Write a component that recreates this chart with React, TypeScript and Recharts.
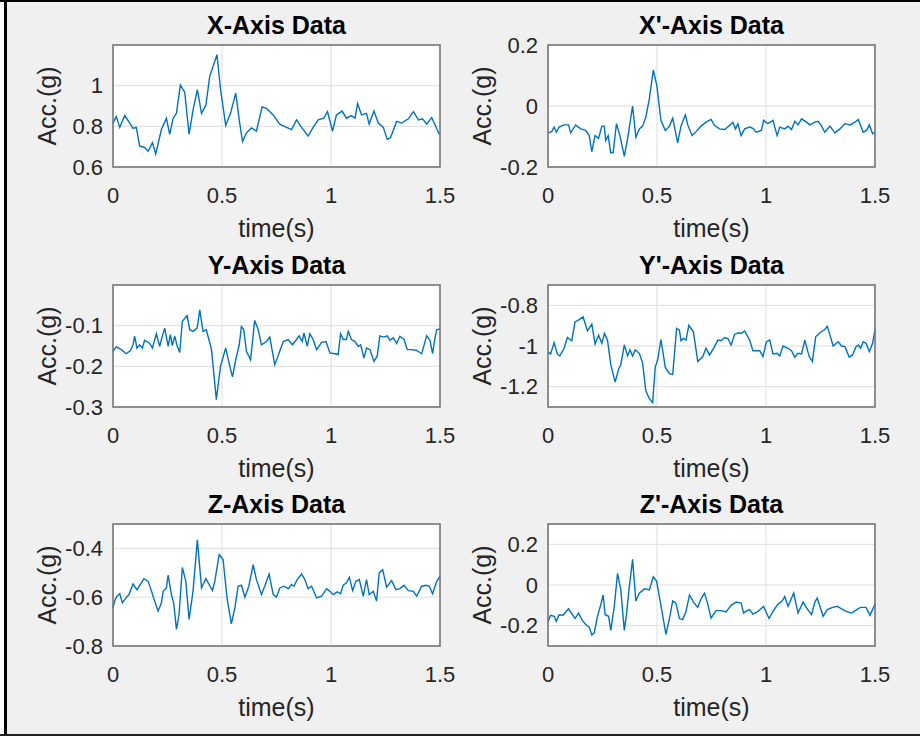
import { LineChart, Line, XAxis, YAxis, CartesianGrid } from 'recharts';

const FONT = '"Liberation Sans", Arial, Helvetica, sans-serif';
const TIME_TICKS = [0, 0.5, 1, 1.5];

// X-Axis Data
const xTime = [0, 0.015, 0.031, 0.054, 0.077, 0.092, 0.107, 0.122, 0.145, 0.161, 0.181, 0.196, 0.222, 0.245, 0.26, 0.276, 0.291, 0.309, 0.329, 0.349, 0.367, 0.387, 0.406, 0.426, 0.444, 0.462, 0.477, 0.493, 0.517, 0.539, 0.563, 0.579, 0.594, 0.612, 0.635, 0.658, 0.684, 0.704, 0.735, 0.765, 0.796, 0.819, 0.842, 0.865, 0.895, 0.918, 0.941, 0.967, 0.984, 1.007, 1.025, 1.051, 1.071, 1.094, 1.11, 1.122, 1.14, 1.163, 1.175, 1.197, 1.217, 1.24, 1.258, 1.273, 1.301, 1.324, 1.355, 1.378, 1.401, 1.42, 1.439, 1.462, 1.477, 1.497];
const xAcc = [0.816, 0.848, 0.795, 0.853, 0.816, 0.79, 0.795, 0.704, 0.696, 0.677, 0.72, 0.664, 0.784, 0.84, 0.76, 0.84, 0.864, 1.003, 0.968, 0.76, 0.88, 0.98, 0.864, 0.904, 1.048, 1.104, 1.152, 0.984, 0.805, 0.864, 0.963, 0.832, 0.725, 0.768, 0.792, 0.776, 0.896, 0.888, 0.856, 0.811, 0.795, 0.784, 0.832, 0.795, 0.752, 0.795, 0.832, 0.84, 0.872, 0.776, 0.856, 0.875, 0.84, 0.853, 0.84, 0.912, 0.856, 0.864, 0.811, 0.875, 0.816, 0.795, 0.736, 0.744, 0.824, 0.816, 0.837, 0.872, 0.832, 0.837, 0.811, 0.843, 0.808, 0.76];

// X'-Axis Data
const xpTime = [0, 0.017, 0.028, 0.038, 0.051, 0.074, 0.094, 0.104, 0.127, 0.15, 0.173, 0.189, 0.201, 0.216, 0.232, 0.247, 0.258, 0.265, 0.276, 0.288, 0.299, 0.314, 0.33, 0.35, 0.365, 0.388, 0.403, 0.419, 0.434, 0.449, 0.465, 0.483, 0.499, 0.518, 0.538, 0.557, 0.572, 0.595, 0.61, 0.63, 0.641, 0.661, 0.679, 0.702, 0.725, 0.748, 0.764, 0.787, 0.81, 0.833, 0.848, 0.86, 0.871, 0.886, 0.902, 0.925, 0.94, 0.955, 0.979, 0.989, 1.009, 1.032, 1.051, 1.063, 1.086, 1.101, 1.117, 1.132, 1.147, 1.163, 1.186, 1.201, 1.224, 1.239, 1.255, 1.27, 1.293, 1.316, 1.339, 1.362, 1.385, 1.408, 1.423, 1.446, 1.462, 1.474, 1.489, 1.5];
const xpAcc = [-0.088, -0.084, -0.069, -0.086, -0.069, -0.062, -0.062, -0.088, -0.062, -0.075, -0.08, -0.097, -0.15, -0.097, -0.106, -0.066, -0.066, -0.113, -0.097, -0.154, -0.152, -0.058, -0.097, -0.165, -0.108, 0, -0.102, -0.075, -0.066, -0.036, 0.024, 0.118, 0.068, -0.047, -0.08, -0.066, -0.04, -0.121, -0.066, -0.029, -0.062, -0.097, -0.084, -0.066, -0.053, -0.044, -0.064, -0.075, -0.077, -0.064, -0.053, -0.075, -0.058, -0.097, -0.075, -0.069, -0.073, -0.086, -0.08, -0.047, -0.058, -0.047, -0.097, -0.069, -0.075, -0.066, -0.077, -0.05, -0.062, -0.042, -0.053, -0.062, -0.053, -0.05, -0.066, -0.086, -0.066, -0.088, -0.075, -0.058, -0.062, -0.053, -0.044, -0.086, -0.08, -0.062, -0.091, -0.086];

// Y-Axis Data
const yTime = [0, 0.015, 0.038, 0.061, 0.08, 0.092, 0.099, 0.11, 0.122, 0.135, 0.145, 0.168, 0.181, 0.199, 0.214, 0.222, 0.237, 0.253, 0.263, 0.272, 0.283, 0.294, 0.306, 0.318, 0.34, 0.352, 0.367, 0.386, 0.398, 0.413, 0.428, 0.452, 0.474, 0.493, 0.517, 0.536, 0.548, 0.563, 0.579, 0.589, 0.6, 0.612, 0.631, 0.65, 0.666, 0.681, 0.704, 0.719, 0.742, 0.765, 0.781, 0.804, 0.823, 0.842, 0.854, 0.868, 0.876, 0.891, 0.903, 0.918, 0.934, 0.957, 0.977, 0.995, 1.018, 1.033, 1.044, 1.056, 1.071, 1.079, 1.094, 1.11, 1.125, 1.136, 1.151, 1.163, 1.179, 1.197, 1.212, 1.224, 1.243, 1.258, 1.27, 1.286, 1.301, 1.316, 1.335, 1.35, 1.37, 1.393, 1.416, 1.439, 1.454, 1.466, 1.477, 1.485, 1.5];
const yAcc = [-0.163, -0.152, -0.159, -0.169, -0.161, -0.147, -0.126, -0.155, -0.147, -0.155, -0.136, -0.143, -0.155, -0.12, -0.151, -0.134, -0.106, -0.151, -0.122, -0.149, -0.126, -0.149, -0.166, -0.089, -0.075, -0.11, -0.114, -0.106, -0.061, -0.114, -0.11, -0.159, -0.282, -0.2, -0.155, -0.2, -0.226, -0.184, -0.147, -0.102, -0.11, -0.163, -0.184, -0.087, -0.11, -0.147, -0.139, -0.128, -0.196, -0.163, -0.139, -0.134, -0.147, -0.134, -0.125, -0.139, -0.118, -0.151, -0.12, -0.134, -0.159, -0.141, -0.139, -0.167, -0.169, -0.171, -0.12, -0.134, -0.134, -0.114, -0.134, -0.139, -0.151, -0.147, -0.18, -0.155, -0.159, -0.188, -0.175, -0.125, -0.128, -0.125, -0.136, -0.13, -0.144, -0.126, -0.134, -0.159, -0.159, -0.161, -0.169, -0.125, -0.136, -0.169, -0.13, -0.11, -0.108];

// Y'-Axis Data
const ypTime = [0, 0.012, 0.028, 0.043, 0.054, 0.074, 0.089, 0.109, 0.124, 0.143, 0.161, 0.181, 0.201, 0.216, 0.232, 0.247, 0.259, 0.273, 0.288, 0.308, 0.324, 0.334, 0.35, 0.365, 0.376, 0.388, 0.4, 0.419, 0.434, 0.449, 0.465, 0.48, 0.492, 0.503, 0.518, 0.538, 0.557, 0.572, 0.59, 0.603, 0.61, 0.621, 0.633, 0.646, 0.667, 0.687, 0.71, 0.725, 0.741, 0.764, 0.779, 0.794, 0.81, 0.825, 0.84, 0.856, 0.876, 0.886, 0.902, 0.925, 0.94, 0.971, 0.986, 1.002, 1.017, 1.032, 1.051, 1.063, 1.078, 1.101, 1.117, 1.132, 1.147, 1.163, 1.178, 1.198, 1.213, 1.228, 1.247, 1.27, 1.281, 1.296, 1.308, 1.331, 1.347, 1.362, 1.382, 1.397, 1.413, 1.423, 1.434, 1.446, 1.459, 1.474, 1.489, 1.5];
const ypAcc = [-1.028, -1.039, -0.984, -1.039, -1.049, -1.011, -0.958, -0.974, -0.882, -0.87, -0.857, -0.926, -0.893, -0.99, -0.947, -0.987, -0.938, -0.971, -1.092, -1.178, -1.113, -1.092, -0.995, -1.049, -1.019, -1.049, -1.019, -1.036, -1.084, -1.222, -1.259, -1.279, -1.104, -1.068, -0.968, -1.104, -1.136, -1.141, -0.914, -0.922, -0.974, -0.963, -0.971, -0.898, -0.93, -1.076, -1.052, -1.011, -1.044, -1.003, -0.971, -0.974, -0.958, -0.963, -0.995, -0.942, -0.935, -0.938, -0.926, -0.971, -1.023, -1.023, -1.052, -0.979, -0.971, -1.039, -1.036, -1.049, -1.0, -1.011, -1.023, -1.055, -1.036, -1.039, -0.971, -1.052, -1.076, -0.955, -0.935, -0.919, -0.903, -0.955, -1.0, -0.979, -1.0, -1.003, -1.055, -1.044, -1.003, -0.995, -1.011, -0.979, -0.987, -1.028, -0.987, -0.919];

// Z-Axis Data
const zTime = [0, 0.008, 0.018, 0.031, 0.043, 0.058, 0.073, 0.092, 0.11, 0.13, 0.142, 0.161, 0.176, 0.191, 0.207, 0.222, 0.23, 0.245, 0.253, 0.268, 0.279, 0.291, 0.303, 0.318, 0.334, 0.349, 0.367, 0.387, 0.406, 0.426, 0.441, 0.456, 0.467, 0.487, 0.505, 0.523, 0.543, 0.559, 0.574, 0.589, 0.605, 0.623, 0.643, 0.658, 0.681, 0.696, 0.716, 0.735, 0.75, 0.765, 0.784, 0.804, 0.819, 0.83, 0.845, 0.865, 0.88, 0.895, 0.911, 0.934, 0.957, 0.98, 0.995, 1.01, 1.029, 1.044, 1.056, 1.071, 1.084, 1.099, 1.114, 1.13, 1.148, 1.163, 1.175, 1.194, 1.209, 1.221, 1.237, 1.255, 1.278, 1.298, 1.316, 1.335, 1.355, 1.378, 1.393, 1.416, 1.436, 1.451, 1.466, 1.485, 1.5];
const zAcc = [-0.644, -0.614, -0.596, -0.586, -0.623, -0.605, -0.589, -0.546, -0.569, -0.541, -0.524, -0.535, -0.573, -0.616, -0.657, -0.623, -0.576, -0.562, -0.51, -0.589, -0.627, -0.732, -0.671, -0.478, -0.535, -0.691, -0.576, -0.365, -0.562, -0.524, -0.548, -0.573, -0.535, -0.426, -0.446, -0.603, -0.709, -0.644, -0.555, -0.551, -0.6, -0.555, -0.467, -0.528, -0.589, -0.555, -0.505, -0.589, -0.6, -0.562, -0.555, -0.565, -0.548, -0.555, -0.528, -0.505, -0.528, -0.565, -0.555, -0.603, -0.596, -0.565, -0.576, -0.589, -0.578, -0.586, -0.551, -0.541, -0.518, -0.573, -0.535, -0.528, -0.596, -0.528, -0.589, -0.576, -0.616, -0.501, -0.487, -0.559, -0.532, -0.569, -0.565, -0.551, -0.573, -0.576, -0.596, -0.555, -0.551, -0.555, -0.586, -0.535, -0.514];

// Z'-Axis Data
const zpTime = [0, 0.012, 0.028, 0.038, 0.051, 0.069, 0.094, 0.112, 0.124, 0.14, 0.158, 0.173, 0.189, 0.201, 0.212, 0.227, 0.242, 0.253, 0.262, 0.278, 0.288, 0.304, 0.319, 0.334, 0.35, 0.36, 0.373, 0.388, 0.403, 0.419, 0.442, 0.465, 0.483, 0.498, 0.518, 0.541, 0.557, 0.572, 0.587, 0.603, 0.618, 0.633, 0.649, 0.667, 0.687, 0.702, 0.718, 0.733, 0.748, 0.771, 0.794, 0.817, 0.84, 0.863, 0.886, 0.897, 0.913, 0.925, 0.94, 0.963, 0.989, 1.014, 1.032, 1.055, 1.075, 1.086, 1.101, 1.127, 1.147, 1.17, 1.186, 1.209, 1.224, 1.235, 1.25, 1.262, 1.281, 1.305, 1.327, 1.347, 1.367, 1.393, 1.416, 1.434, 1.459, 1.477, 1.5];
const zpAcc = [-0.181, -0.149, -0.154, -0.178, -0.146, -0.149, -0.117, -0.146, -0.165, -0.138, -0.175, -0.194, -0.207, -0.246, -0.235, -0.154, -0.097, -0.049, -0.146, -0.154, -0.223, -0.105, 0.057, -0.024, -0.223, -0.146, -0.008, 0.126, -0.078, -0.04, -0.019, -0.024, 0.04, 0.019, -0.1, -0.243, -0.165, -0.078, -0.089, -0.165, -0.17, -0.13, -0.049, -0.084, -0.11, -0.068, -0.04, -0.094, -0.162, -0.126, -0.126, -0.133, -0.1, -0.084, -0.089, -0.138, -0.126, -0.121, -0.143, -0.13, -0.105, -0.165, -0.13, -0.094, -0.078, -0.057, -0.105, -0.04, -0.138, -0.084, -0.113, -0.146, -0.084, -0.065, -0.113, -0.154, -0.121, -0.11, -0.105, -0.117, -0.13, -0.138, -0.121, -0.11, -0.11, -0.149, -0.094];

const PLOT_W = 327;
const PLOT_H = 122;
const AXIS_W = 70;
const AXIS_H = 45;
const PAD_T = 16;
const PAD_R = 26;

const panels = [
  { title: 'X-Axis Data', left: 113, top: 45, time: xTime, acc: xAcc, domain: [0.6, 1.2], ticks: [0.6, 0.8, 1] },
  { title: "X'-Axis Data", left: 548, top: 45, time: xpTime, acc: xpAcc, domain: [-0.2, 0.2], ticks: [-0.2, 0, 0.2] },
  { title: 'Y-Axis Data', left: 113, top: 285, time: yTime, acc: yAcc, domain: [-0.3, 0], ticks: [-0.3, -0.2, -0.1] },
  { title: "Y'-Axis Data", left: 548, top: 285, time: ypTime, acc: ypAcc, domain: [-1.3, -0.7], ticks: [-1.2, -1, -0.8] },
  { title: 'Z-Axis Data', left: 113, top: 524, time: zTime, acc: zAcc, domain: [-0.8, -0.3], ticks: [-0.8, -0.6, -0.4] },
  { title: "Z'-Axis Data", left: 548, top: 524, time: zpTime, acc: zpAcc, domain: [-0.3, 0.3], ticks: [-0.2, 0, 0.2] },
];

const tickStyle = { fontSize: 22, fill: '#262626', fontFamily: FONT };

function Panel({ p }: { p: any }) {
  const data = p.time
    .map((t: number, i: number) => ({ t, v: p.acc[i] }))
    .filter((d: any) => d.v !== undefined);
  return (
    <div style={{ position: 'absolute', left: p.left - AXIS_W, top: p.top - PAD_T }}>
      <LineChart
        width={AXIS_W + PLOT_W + PAD_R}
        height={PAD_T + PLOT_H + AXIS_H}
        data={data}
        margin={{ top: PAD_T, right: PAD_R, bottom: 0, left: 0 }}
      >
        <CartesianGrid stroke="#dedede" fill="#ffffff" />
        <XAxis
          type="number"
          dataKey="t"
          domain={[0, 1.5]}
          ticks={TIME_TICKS}
          interval={0}
          axisLine={false}
          tickLine={false}
          tickSize={0}
          tickMargin={20}
          height={AXIS_H}
          tick={tickStyle}
        />
        <YAxis
          type="number"
          domain={p.domain}
          ticks={p.ticks}
          interval={0}
          allowDataOverflow
          axisLine={false}
          tickLine={false}
          tickSize={0}
          tickMargin={10}
          width={AXIS_W}
          tick={tickStyle}
        />
        <Line type="linear" dataKey="v" stroke="#0072bd" strokeWidth={1.4} dot={false} isAnimationActive={false} />
      </LineChart>
    </div>
  );
}

export default function App() {
  return (
    <div style={{ position: 'absolute', left: 0, top: 0, width: 920, height: 736, background: '#f0f0f0', overflow: 'hidden' }}>
      <div style={{ position: 'absolute', left: 0, top: 0, width: 4, height: 736, background: '#ffffff' }} />
      <div style={{ position: 'absolute', left: 4, top: 0, width: 3, height: 736, background: '#000000' }} />
      <div style={{ position: 'absolute', left: 0, top: 0, width: 920, height: 2, background: '#000000' }} />
      <div style={{ position: 'absolute', left: 0, top: 734, width: 920, height: 2, background: '#222222' }} />

      {panels.map((p) => (
        <Panel key={p.title} p={p} />
      ))}

      <svg width={920} height={736} style={{ position: 'absolute', left: 0, top: 0, pointerEvents: 'none' }} fontFamily={FONT}>
        {panels.map((p) => (
          <g key={p.title}>
            <rect x={p.left} y={p.top} width={PLOT_W} height={PLOT_H} fill="none" stroke="#707070" strokeWidth={1.5} />
            <text x={p.left + PLOT_W / 2} y={p.top - 11} textAnchor="middle" fontSize={25} fontWeight="bold" fill="#000000">
              {p.title}
            </text>
            <text x={p.left + PLOT_W / 2} y={p.top + PLOT_H + 70} textAnchor="middle" fontSize={25} fill="#262626">
              time(s)
            </text>
            <text
              transform={`translate(${p.left - 57},${p.top + PLOT_H / 2}) rotate(-90)`}
              textAnchor="middle"
              fontSize={25}
              fill="#262626"
            >
              Acc.(g)
            </text>
          </g>
        ))}
      </svg>
    </div>
  );
}
